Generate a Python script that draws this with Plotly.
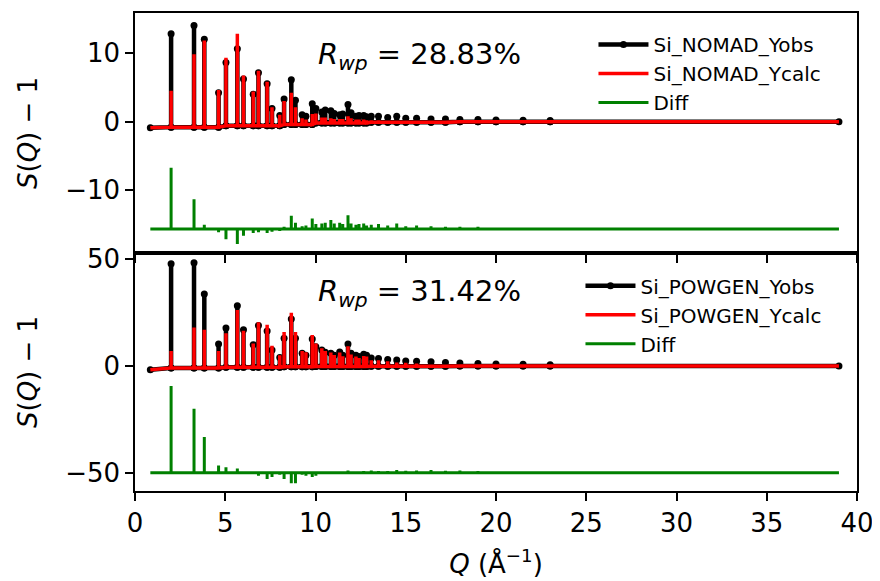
import plotly.graph_objects as go

# ---------------- data ----------------
peak_q = [2.00, 3.27, 3.84, 4.63, 5.04, 5.67, 6.01, 6.55, 6.84, 7.32, 7.59, 8.02,
          8.26, 8.66, 8.89, 9.26, 9.47, 9.82, 10.02, 10.35, 10.54, 10.85, 11.04,
          11.34, 11.51, 11.80, 11.97, 12.24, 12.41, 12.67, 12.83, 13.09, 13.49,
          14.0, 14.5, 15.0, 15.6, 16.4, 17.2, 18.0, 19.0, 20.0, 21.5, 23.0]

# NOMAD (top panel)
nomad_obs = [12.8, 14.0, 12.0, 4.2, 8.6, 10.6, 6.2, 4.0, 7.1, 5.5, 1.9, 0.9,
             3.3, 6.1, 3.1, 1.0, 0.8, 2.6, 1.9, 1.4, 1.7, 1.6, 1.2,
             1.0, 1.1, 2.5, 1.3, 0.8, 0.9, 0.9, 0.7, 0.8, 0.8,
             0.6, 0.8, 0.5, 0.5, 0.4, 0.4, 0.3, 0.3, 0.25, 0.2, 0.15]
nomad_calc = [4.5, 9.8, 11.8, 4.6, 9.3, 12.8, 6.7, 4.4, 7.4, 5.8, 2.1, 1.0,
              3.0, 4.2, 2.1, 0.5, 0.3, 1.1, 1.2, 0.6, 0.6, 0.5, 0.4,
              0.4, 0.4, 0.8, 0.5, 0.3, 0.3, 0.3, 0.2, 0.2, 0.2,
              0.1, 0.1, 0.1, 0.1, 0.05, 0.05, 0.0, 0.0, 0.0, 0.0, 0.0]
nomad_diff = [8.9, 4.3, 0.6, -0.5, -1.5, -2.2, -1.0, -0.6, -0.5, -0.6, -0.4, -0.3,
              0.3, 1.9, 0.9, 0.4, 0.5, 1.5, 0.7, 0.8, 0.9, 1.3, 0.8,
              0.9, 0.7, 2.0, 0.8, 0.6, 0.7, 0.8, 0.5, 0.6, 0.7,
              0.5, 0.8, 0.4, 0.5, 0.4, 0.3, 0.3, 0.3, 0.2, 0.2, 0.1]
nomad_base = [-0.8] * 4 + [-0.6] * 8 + [-0.4] * 6 + [-0.2] * 13 + [-0.1] * 8 + [0.0] * 5
nomad_diff_offset = -15.6

# POWGEN (bottom panel)
powgen_obs = [48.0, 48.4, 33.8, 10.3, 17.8, 28.2, 17.0, 10.0, 19.0, 16.4, 7.5, 4.0,
              13.0, 22.0, 13.0, 6.0, 5.0, 12.7, 9.0, 7.5, 6.5, 6.0, 5.0,
              6.6, 5.0, 10.3, 6.0, 5.0, 4.5, 5.5, 5.0, 3.7, 3.5,
              3.0, 2.8, 2.4, 2.2, 2.0, 1.6, 1.4, 1.2, 1.0, 0.8, 0.6]
powgen_calc = [7.0, 18.0, 17.0, 7.0, 15.3, 26.2, 16.5, 10.5, 20.5, 19.4, 9.5, 5.0,
               16.0, 25.0, 16.0, 7.0, 6.5, 14.5, 10.5, 8.3, 7.0, 6.3, 5.2,
               6.3, 4.6, 9.3, 5.4, 4.5, 3.8, 4.7, 4.4, 2.7, 2.7,
               2.2, 1.6, 1.5, 1.2, 0.7, 0.7, 0.4, 0.4, 0.3, 0.3, 0.2]
powgen_diff = [40.6, 30.0, 16.7, 3.3, 2.5, 2.0, 0.5, -0.5, -1.5, -3.0, -2.0, -1.0,
               -3.0, -5.0, -5.0, -1.0, -1.5, -2.0, -1.5, -0.8, -0.5, -0.3, -0.2,
               0.3, 0.4, 1.0, 0.6, 0.5, 0.7, 0.8, 0.6, 1.0, 0.8,
               0.8, 1.2, 0.9, 1.0, 1.3, 0.9, 1.0, 0.8, 0.7, 0.5, 0.4]
powgen_base = [-0.9] * 4 + [-0.6] * 8 + [-0.4] * 6 + [-0.2] * 13 + [-0.1] * 8 + [0.0] * 5
powgen_diff_offset = -50.0

q_start, q_end = 0.85, 39.0
nomad_start_base, powgen_start_base = -0.9, -1.8

x_ticks = [0, 5, 10, 15, 20, 25, 30, 35, 40]
nomad_yticks = [-10, 0, 10]
powgen_yticks = [-50, 0, 50]
rwp_nomad = "28.83%"
rwp_powgen = "31.42%"


def profile(heights, bases, start_base, offset=0.0):
    xs, ys = [q_start], [start_base + offset]
    for q, h, b in zip(peak_q, heights, bases):
        xs += [q, q, q]
        ys += [b + offset, h + offset, b + offset]
    xs.append(q_end)
    ys.append(0.0 + offset)
    return xs, ys


FONT = "DejaVu Sans"
fig = go.Figure()


def add_panel(prefix, obs, calc, diff, base, start_base, diff_off, xa, ya, leg):
    xo, yo = profile(obs, base, start_base)
    xc, yc = profile(calc, base, start_base)
    xd, yd = profile(diff, [0.0] * len(diff), 0.0, diff_off)
    fig.add_trace(go.Scatter(x=xo, y=yo, mode="lines+markers", name=prefix + "_Yobs",
                             line=dict(color="black", width=4.5),
                             marker=dict(color="black", size=7),
                             xaxis=xa, yaxis=ya, legend=leg, legendgroup=prefix + "o"))
    fig.add_trace(go.Scatter(x=xc, y=yc, mode="lines", name=prefix + "_Ycalc",
                             line=dict(color="#ff0000", width=3.5),
                             xaxis=xa, yaxis=ya, legend=leg, legendgroup=prefix + "c"))
    fig.add_trace(go.Scatter(x=xd, y=yd, mode="lines", name="Diff",
                             line=dict(color="#008000", width=3),
                             xaxis=xa, yaxis=ya, legend=leg, legendgroup=prefix + "d"))


add_panel("Si_NOMAD", nomad_obs, nomad_calc, nomad_diff, nomad_base,
          nomad_start_base, nomad_diff_offset, "x", "y", "legend")
add_panel("Si_POWGEN", powgen_obs, powgen_calc, powgen_diff, powgen_base,
          powgen_start_base, powgen_diff_offset, "x2", "y2", "legend2")

axis_common = dict(showline=True, linecolor="black", linewidth=1.5, mirror=True,
                   ticks="outside", ticklen=8, tickwidth=1.5, tickcolor="black",
                   showgrid=False, zeroline=False, automargin=False,
                   tickfont=dict(family=FONT, size=26, color="black"))

split = 0.498
fig.update_layout(
    width=880, height=581,
    margin=dict(l=127, r=31, t=5, b=98, autoexpand=False),
    paper_bgcolor="white", plot_bgcolor="white",
    font=dict(family=FONT, color="black"),
    xaxis=dict(range=[0, 40], tickvals=x_ticks, showticklabels=False, anchor="y",
               domain=[0, 1], **axis_common),
    xaxis2=dict(range=[0, 40], tickvals=x_ticks, anchor="y2", matches="x",
                domain=[0, 1],
                title=dict(text="<i>Q</i> (Å<sup>−1</sup>)", standoff=18,
                           font=dict(family=FONT, size=26, color="black")),
                **axis_common),
    yaxis=dict(range=[-19.1, 15.8], tickvals=nomad_yticks,
               ticktext=["−10", "0", "10"], domain=[split, 1], anchor="x",
               title=dict(text="<i>S</i>(<i>Q</i>) − 1", standoff=20,
                          font=dict(family=FONT, size=26, color="black")),
               **axis_common),
    yaxis2=dict(range=[-58.6, 53.0], tickvals=powgen_yticks,
                ticktext=["−50", "0", "50"], domain=[0, split], anchor="x2",
                title=dict(text="<i>S</i>(<i>Q</i>) − 1", standoff=20,
                           font=dict(family=FONT, size=26, color="black")),
                **axis_common),
    legend=dict(x=0.635, y=0.975, xanchor="left", yanchor="top",
                bgcolor="rgba(0,0,0,0)", tracegroupgap=0, itemwidth=50,
                font=dict(family=FONT, size=20, color="black")),
    legend2=dict(x=0.617, y=0.47, xanchor="left", yanchor="top",
                 bgcolor="rgba(0,0,0,0)", tracegroupgap=0, itemwidth=50,
                 font=dict(family=FONT, size=20, color="black")),
    annotations=[
        dict(x=10.0, y=9.5, xref="x", yref="y", xanchor="left", yanchor="middle",
             showarrow=False,
             text="<i>R</i><sub><i>wp</i></sub> = " + rwp_nomad,
             font=dict(family=FONT, size=29, color="black")),
        dict(x=10.0, y=34.0, xref="x2", yref="y2", xanchor="left", yanchor="middle",
             showarrow=False,
             text="<i>R</i><sub><i>wp</i></sub> = " + rwp_powgen,
             font=dict(family=FONT, size=29, color="black")),
    ],
)

fig.write_html("out.html")
